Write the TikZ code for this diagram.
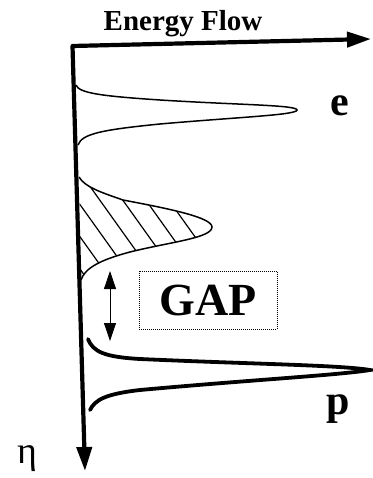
\documentclass[tikz,border=0pt]{standalone}
\usepackage{fontspec}
\setmainfont{Liberation Serif}
\usetikzlibrary{arrows.meta, positioning}

\begin{document}
\begin{tikzpicture}[x=1pt, y=-1pt,
  axis/.style={line width=4.2pt, line join=round,
               {Triangle[length=24pt, width=15pt]}-{Triangle[length=24pt, width=15pt]}},
  band/.style={line width=1.5pt},
  ptail/.style={line width=3.8pt, line cap=round},
  hatch/.style={line width=1.2pt},
  letter/.style={inner sep=0pt, font=\fontsize{42}{42}\selectfont\bfseries},
  gapbox/.style={draw, densely dotted, line width=1pt, minimum width=138pt,
                 minimum height=58pt, inner sep=0pt, font=\fontsize{46}{46}\selectfont\bfseries},
  gaparrow/.style={line width=0.8pt,
                   {Triangle[length=18pt, width=12pt]}-{Triangle[length=18pt, width=12pt]}},
]
  \useasboundingbox (0,0) rectangle (372,478);

  % axes
  \coordinate (corner) at (72.5,46);
  \coordinate (etaend) at (85,471);
  \coordinate (flowend) at (371,39);
  \draw[axis] (etaend) -- (corner) -- (flowend);

  \node[inner sep=0pt, font=\fontsize{29}{29}\selectfont\bfseries] (flow) at (183,24) {Energy Flow};
  \node[inner sep=0pt, font=\fontsize{38}{38}\selectfont] (eta) at (27,459) {η};

  % electron band
  \draw[band] (76,85) .. controls (79,93) and (100,96) .. (160,100)
    .. controls (240,105) and (297,105) .. (297,110)
    .. controls (297,115) and (240,117) .. (160,124)
    .. controls (100,130) and (82,134) .. (78,145);
  \node[letter] (e) at (340,106) {e};

  % hatched band
  \begin{scope}
    \clip (79,177) .. controls (85,187) and (100,192) .. (123,200)
      .. controls (165,208) and (212,217) .. (212,227)
      .. controls (212,238) and (170,242) .. (130,252)
      .. controls (100,260) and (85,268) .. (81,280) -- cycle;
    \foreach \x in {-5,18,41,64,87,110,133}
      \draw[hatch] (\x,150) -- ++(100,140);
  \end{scope}
  \draw[band] (79,177) .. controls (85,187) and (100,192) .. (123,200)
    .. controls (165,208) and (212,217) .. (212,227)
    .. controls (212,238) and (170,242) .. (130,252)
    .. controls (100,260) and (85,268) .. (81,280);

  % gap
  \coordinate (gaptop) at (110,271);
  \coordinate (gapbot) at (110,341);
  \draw[gaparrow] (gaptop) -- (gapbot);
  \node[gapbox] (gap) at (208,300) {GAP};

  % proton band
  \draw[ptail] (88,339) .. controls (93,352) and (105,357) .. (140,359)
    .. controls (250,364) and (340,365) .. (370,370)
    .. controls (340,375) and (250,380) .. (140,390)
    .. controls (105,394) and (95,400) .. (90,410);
  \node[letter] (p) at (338,409) {p};
\end{tikzpicture}
\end{document}
